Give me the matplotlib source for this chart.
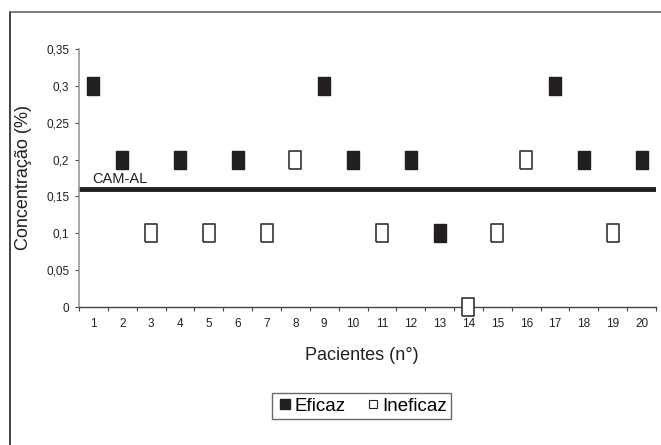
import matplotlib
matplotlib.use('Agg')
import matplotlib.pyplot as plt
from matplotlib.lines import Line2D

plt.rcParams['font.family'] = ['Liberation Sans', 'DejaVu Sans']

# Data
pacientes = list(range(1, 21))
eficaz_x = [1, 2, 4, 6, 9, 10, 12, 13, 17, 18, 20]
eficaz_y = [0.3, 0.2, 0.2, 0.2, 0.3, 0.2, 0.2, 0.1, 0.3, 0.2, 0.2]
ineficaz_x = [3, 5, 7, 8, 11, 14, 15, 16, 19]
ineficaz_y = [0.1, 0.1, 0.1, 0.2, 0.1, 0.0, 0.1, 0.2, 0.1]
cam_al = 0.16
y_ticks = [0, 0.05, 0.1, 0.15, 0.2, 0.25, 0.3, 0.35]
y_labels = ['0', '0,05', '0,1', '0,15', '0,2', '0,25', '0,3', '0,35']

fig = plt.figure(figsize=(6.61, 4.45), dpi=100)

# outer frame (left and top edges visible)
fig.add_artist(Line2D([10/661, 10/661], [0, 1 - 12/445], color='#222222', lw=1.2))
fig.add_artist(Line2D([10/661, 1], [1 - 12/445, 1 - 12/445], color='#666666', lw=1.2))

ax = fig.add_axes([79/661, 1 - 307/445, (656 - 79)/661, (307 - 49)/445])

rect = [(-0.7, -1), (0.7, -1), (0.7, 1), (-0.7, 1), (-0.7, -1)]
ax.plot(eficaz_x, eficaz_y, linestyle='none', marker=rect, markersize=12.5,
        markerfacecolor='#231f20', markeredgecolor='#231f20', clip_on=False)
ax.plot(ineficaz_x, ineficaz_y, linestyle='none', marker=rect, markersize=12.5,
        markerfacecolor='white', markeredgecolor='#333333', markeredgewidth=1.2,
        clip_on=False, zorder=5)

ax.axhline(cam_al, color='#231f20', lw=3.5)
ax.text(0.95, cam_al + 0.004, 'CAM-AL', fontsize=10.5, color='#231f20', va='bottom')

ax.set_xlim(0.5, 20.5)
ax.set_ylim(0, 0.35)

ax.set_xticks([p - 0.5 for p in pacientes] + [20.5])
ax.set_xticklabels([])
ax.set_xticks(pacientes, minor=True)
ax.set_xticklabels([str(p) for p in pacientes], minor=True, fontsize=8.5, color='#231f20')
ax.tick_params(axis='x', which='major', length=3, direction='out', color='#444444')
ax.tick_params(axis='x', which='minor', length=0, pad=8)

ax.set_yticks(y_ticks)
ax.set_yticklabels(y_labels, fontsize=8.5, color='#231f20')
ax.tick_params(axis='y', length=3, direction='out', color='#444444', pad=4)

for s in ['top', 'right']:
    ax.spines[s].set_visible(False)
ax.spines['left'].set_color('#999999')
ax.spines['left'].set_linewidth(1.2)
ax.spines['bottom'].set_color('#444444')
ax.spines['bottom'].set_linewidth(1.0)

fig.text(362/661, 1 - 356/445, 'Pacientes (n°)', fontsize=13, ha='center', va='center', color='#231f20')
fig.text(24/661, 1 - 178/445, 'Concentração (%)', fontsize=13, ha='center', va='center',
         rotation=90, color='#231f20')

handles = [
    Line2D([], [], linestyle='none', marker='s', markersize=7, markerfacecolor='#231f20',
           markeredgecolor='#231f20'),
    Line2D([], [], linestyle='none', marker='s', markersize=6, markerfacecolor='white',
           markeredgecolor='#231f20', markeredgewidth=0.8),
]
leg = fig.legend(handles, ['Eficaz', 'Ineficaz'], loc='center', bbox_to_anchor=(361.5/661, 1 - 406/445),
                 ncol=2, fontsize=13.5, frameon=True, fancybox=False, edgecolor='#444444',
                 handletextpad=0.05, columnspacing=1.0, handlelength=0.9, borderpad=0.25,
                 borderaxespad=0)
leg.get_frame().set_linewidth(1.0)

fig.savefig('out.png', dpi=100)
